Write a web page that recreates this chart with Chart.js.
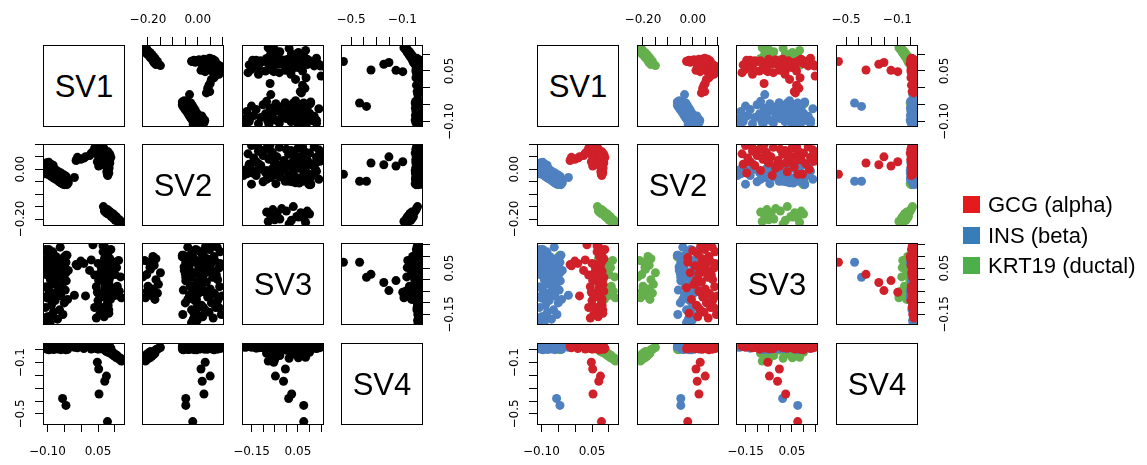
<!DOCTYPE html>
<html><head><meta charset="utf-8"><title>SV pairs</title>
<script src="https://cdn.jsdelivr.net/npm/chart.js@4.4.1/dist/chart.umd.min.js"></script>
<style>
html,body{margin:0;padding:0;background:#fff;}
body{position:relative;width:1147px;height:465px;overflow:hidden;font-family:"Liberation Sans",Arial,Helvetica,sans-serif;color:#000;}
canvas{position:absolute;}
.diag{position:absolute;box-sizing:border-box;border:1px solid #000;display:flex;align-items:center;justify-content:center;font-size:31px;line-height:1;}
.legend{position:absolute;left:963px;top:196px;}
.legend .row{position:absolute;left:0;display:flex;align-items:center;height:17px;white-space:nowrap;font-size:22px;line-height:17px;}
.legend .sw{width:17px;height:17px;margin-right:8px;flex:none;}
</style></head>
<body>
<script>
// ---------------- data ----------------
const cellTypes = ['GCG (alpha)', 'INS (beta)', 'KRT19 (ductal)'];
const svNames = ['SV1', 'SV2', 'SV3', 'SV4'];

const alphaSV1 = [0.055,0.065,0.045,0.060,0.050,0.070,0.040,0.062,0.080,0.052,0.072,0.045,0.085,0.065,0.078,0.058,0.070,0.088,0.062,0.080,0.070,0.085,0.075,0.065,0.082,0.072,0.085,0.078,0.068,0.080,0.075,0.083,0.078,0.080,0.076,0.082,0.078,0.079,0.050,0.058,0.035,0.040,0.068,0.030,0.025,0.013,0.008,-0.001,-0.011,-0.015,0.078,0.053,0.070,0.075,0.052,0.048];
const alphaSV2 = [0.095,0.090,0.088,0.085,0.080,0.078,0.075,0.072,0.070,0.068,0.065,0.062,0.060,0.058,0.055,0.052,0.050,0.048,0.045,0.042,0.040,0.038,0.035,0.032,0.030,0.028,0.025,0.022,0.020,0.015,0.010,0.005,0.000,-0.005,-0.010,-0.015,-0.020,-0.025,0.090,0.098,0.070,0.085,0.080,0.065,0.055,0.050,0.045,0.040,0.048,0.035,-0.020,0.025,0.018,0.050,0.013,0.030];
const alphaSV3 = [-0.150,0.120,-0.030,0.050,-0.090,0.140,0.020,-0.120,0.080,-0.060,0.100,-0.165,0.010,0.155,-0.100,0.065,-0.040,0.130,-0.140,0.035,-0.075,0.090,-0.010,0.145,-0.130,0.045,-0.050,0.110,-0.160,-0.110,0.060,-0.020,0.125,-0.085,0.030,-0.145,0.095,-0.035,0.070,-0.070,0.150,-0.120,0.000,0.085,0.040,-0.070,0.070,0.080,0.060,0.065,0.075,0.023,-0.012,-0.047,-0.004,-0.054];
const alphaSV4 = [0.020,0.035,0.010,0.042,0.005,0.025,0.038,0.015,0.030,0.045,0.000,0.028,0.018,0.040,0.022,0.008,0.033,0.012,0.036,0.026,0.044,0.004,0.030,0.016,0.039,0.020,0.010,0.034,0.041,0.025,0.007,0.030,0.018,0.043,0.012,0.037,0.022,0.008,0.027,0.014,0.032,0.019,0.040,0.006,0.024,0.030,0.010,0.035,0.015,0.028,-0.560,-0.345,-0.245,-0.205,-0.150,-0.097];

const betaSV1 = [-0.108,-0.106,-0.105,-0.104,-0.102,-0.100,-0.100,-0.098,-0.097,-0.095,-0.094,-0.092,-0.091,-0.090,-0.088,-0.087,-0.085,-0.084,-0.082,-0.081,-0.080,-0.078,-0.077,-0.075,-0.074,-0.072,-0.070,-0.069,-0.067,-0.065,-0.064,-0.062,-0.060,-0.059,-0.057,-0.055,-0.054,-0.052,-0.050,-0.049,-0.047,-0.045,-0.044,-0.042,-0.040,-0.038,-0.108,-0.110,-0.103,-0.096,-0.089,-0.083,-0.020,-0.055,-0.045];
const betaSV2 = [0.005,0.022,-0.008,0.015,0.026,-0.012,0.010,-0.020,0.018,-0.005,0.004,-0.025,0.012,-0.015,0.000,-0.030,0.008,-0.022,-0.006,-0.035,0.002,-0.028,-0.012,-0.040,-0.004,-0.034,-0.018,-0.045,-0.010,-0.050,-0.025,-0.040,-0.015,-0.055,-0.030,-0.045,-0.060,-0.022,-0.050,-0.035,-0.058,-0.028,-0.048,-0.062,-0.040,-0.054,-0.018,0.012,-0.002,0.028,0.020,0.016,-0.033,-0.048,-0.048];
const betaSV3 = [0.050,-0.120,0.130,-0.030,0.080,-0.160,0.020,-0.080,0.110,-0.050,0.060,-0.185,0.000,0.090,-0.110,0.035,-0.020,0.120,-0.140,0.070,-0.060,0.010,-0.090,0.100,-0.010,0.045,-0.170,0.075,-0.040,0.025,-0.130,0.140,-0.070,0.055,-0.025,0.090,-0.150,0.015,-0.100,0.065,-0.045,0.030,-0.005,0.105,-0.085,0.040,-0.075,0.085,-0.175,0.130,-0.155,0.050,-0.067,0.010,0.075];
const betaSV4 = [0.020,0.035,0.010,0.040,0.005,0.028,0.015,0.045,0.030,0.000,0.038,0.022,0.012,0.042,0.018,0.033,0.008,0.025,0.040,0.002,0.030,0.046,0.015,0.035,0.010,0.026,0.039,0.006,0.021,0.044,0.013,0.032,0.001,0.027,0.037,0.017,0.043,0.009,0.031,0.020,0.040,0.011,0.034,0.024,0.003,0.029,0.016,0.036,0.019,0.041,0.026,0.014,0.020,-0.380,-0.434];

const ductalSV1 = [0.066,0.069,0.071,0.074,0.078,0.080,0.083,0.087,0.089,0.093,0.095,0.099,0.101,0.105,0.107,0.111,0.113,0.117,0.119,-0.045,-0.050];
const ductalSV2 = [-0.150,-0.168,-0.158,-0.175,-0.162,-0.180,-0.168,-0.172,-0.190,-0.178,-0.196,-0.185,-0.205,-0.192,-0.200,-0.214,-0.203,-0.220,-0.210,-0.058,-0.062];
const ductalSV3 = [0.030,0.090,-0.020,0.062,-0.058,0.100,0.000,-0.085,0.045,-0.040,0.075,-0.068,0.022,0.052,-0.028,0.083,-0.050,0.012,-0.078,0.105,0.098];
const ductalSV4 = [0.018,0.000,0.010,-0.012,0.006,-0.020,-0.004,-0.028,-0.014,-0.040,-0.022,-0.050,-0.034,-0.062,-0.045,-0.058,-0.075,-0.066,-0.088,0.000,0.006];

// axis ranges, tick positions and the tick labels that are printed
const sv1Range = [-0.113, 0.127];
const sv2Range = [-0.224, 0.1015];
const sv3Range = [-0.191, 0.158];
const sv4Range = [-0.579, 0.053];
const sv1Ticks = [-0.10, -0.05, 0.00, 0.05, 0.10];
const sv2Ticks = [-0.20, -0.15, -0.10, -0.05, 0.00, 0.05, 0.10];
const sv3Ticks = [-0.15, -0.10, -0.05, 0.00, 0.05, 0.10, 0.15];
const sv4Ticks = [-0.5, -0.4, -0.3, -0.2, -0.1, 0.0];
const sv1LabelValues = [-0.10, 0.05], sv1LabelTexts = ['\u22120.10', '0.05'];
const sv2LabelValues = [-0.20, 0.00], sv2LabelTexts = ['\u22120.20', '0.00'];
const sv3LabelValues = [-0.15, 0.05], sv3LabelTexts = ['\u22120.15', '0.05'];
const sv4LabelValues = [-0.5, -0.1], sv4LabelTexts = ['\u22120.5', '\u22120.1'];

// ---------------- styles / layout ----------------
const pointColors = ['#d0202a', '#4f80bf', '#65b04d'];
const legendColors = ['#e41a1c', '#377eb8', '#4daf4a'];
const TICK_FAMILY = '"DejaVu Sans", sans-serif';
const TICK_SIZE = 12;
const POINT_R = 4.5;
const M = 50, A = 45, S = 81;
const leftCols = [43, 142, 242, 341];
const rightCols = [537, 637, 736, 836];
const rowsY = [45, 144, 243, 343];

const typeSV = [
  [alphaSV1, alphaSV2, alphaSV3, alphaSV4],
  [betaSV1, betaSV2, betaSV3, betaSV4],
  [ductalSV1, ductalSV2, ductalSV3, ductalSV4]
];
const svRanges = [sv1Range, sv2Range, sv3Range, sv4Range];
const svTicks = [sv1Ticks, sv2Ticks, sv3Ticks, sv4Ticks];
const svLabelValues = [sv1LabelValues, sv2LabelValues, sv3LabelValues, sv4LabelValues];
const svLabelTexts = [sv1LabelTexts, sv2LabelTexts, sv3LabelTexts, sv4LabelTexts];

const mctx = document.createElement('canvas').getContext('2d');
mctx.font = TICK_SIZE + 'px ' + TICK_FAMILY;
function widestLabel(v) { return Math.max(...svLabelTexts[v].map(t => mctx.measureText(t).width)); }
function labelFor(v, val) {
  const k = svLabelValues[v].findIndex(t => Math.abs(t - val) < 1e-9);
  return k < 0 ? '' : svLabelTexts[v][k];
}

const framePlugin = {
  id: 'frame',
  afterDatasetsDraw(chart) {
    const a = chart.chartArea, ctx = chart.ctx;
    ctx.save();
    ctx.strokeStyle = '#000';
    ctx.lineWidth = 1;
    ctx.strokeRect(a.left + 0.5, a.top + 0.5, a.right - a.left, a.bottom - a.top);
    ctx.restore();
  }
};

function axisOpts(v, pos, show) {
  const isY = (pos === 'left' || pos === 'right');
  const w = widestLabel(v);
  let pad;
  if (pos === 'top') pad = 9.8;
  else if (pos === 'bottom') pad = 12.8;
  else if (pos === 'left') pad = 22 - 8 - w / 2;
  else pad = 27.5 - 8 - w / 2;
  return {
    type: 'linear', position: pos, display: show,
    min: svRanges[v][0], max: svRanges[v][1],
    afterBuildTicks: s => { s.ticks = svTicks[v].map(t => ({ value: t })); },
    afterFit: s => { if (!show) return; if (isY) s.width = A; else s.height = A; },
    grid: { display: true, drawOnChartArea: false, drawTicks: true, tickLength: 8, color: '#000', lineWidth: 1 },
    border: { display: false },
    ticks: {
      autoSkip: false, color: '#000', font: { family: TICK_FAMILY, size: TICK_SIZE },
      padding: pad, minRotation: isY ? 90 : 0, maxRotation: isY ? 90 : 0,
      crossAlign: isY ? 'center' : 'near',
      callback: val => labelFor(v, val)
    }
  };
}

function makeDiag(x, y, i) {
  const d = document.createElement('div');
  d.className = 'diag';
  d.style.left = x + 'px'; d.style.top = y + 'px';
  d.style.width = (S + 1) + 'px'; d.style.height = (S + 1) + 'px';
  d.textContent = svNames[i];
  document.body.appendChild(d);
}

function makePanel(x, y, i, j, colored) {
  const c = document.createElement('canvas');
  const sz = S + 2 * M;
  c.width = sz; c.height = sz;
  c.style.width = sz + 'px'; c.style.height = sz + 'px';
  c.style.left = (x - M) + 'px'; c.style.top = (y - M) + 'px';
  document.body.appendChild(c);
  const hasTop = i === 0 && j % 2 === 1;
  const hasBottom = i === 3 && j % 2 === 0;
  const hasLeft = j === 0 && i % 2 === 1;
  const hasRight = j === 3 && i % 2 === 0;
  const datasets = typeSV.map((arrs, t) => ({
    label: cellTypes[t],
    data: arrs[j].map((val, k) => ({ x: val, y: arrs[i][k] })),
    backgroundColor: colored ? pointColors[t] : '#000',
    borderWidth: 0, pointRadius: POINT_R, pointHoverRadius: POINT_R, clip: 0
  }));
  new Chart(c, {
    type: 'scatter',
    data: { datasets },
    options: {
      responsive: false, animation: false, devicePixelRatio: 1, events: [],
      layout: { autoPadding: true, padding: {
        top: hasTop ? M - A : M, bottom: hasBottom ? M - A : M,
        left: hasLeft ? M - A : M, right: hasRight ? M - A : M } },
      plugins: { legend: { display: false }, tooltip: { enabled: false } },
      scales: {
        x: axisOpts(j, hasTop ? 'top' : 'bottom', hasTop || hasBottom),
        y: axisOpts(i, hasRight ? 'right' : 'left', hasLeft || hasRight)
      }
    },
    plugins: [framePlugin]
  });
}

function makeMatrix(cols, colored) {
  for (let i = 0; i < 4; i++) {
    for (let j = 0; j < 4; j++) {
      if (i === j) makeDiag(cols[j], rowsY[i], i);
      else makePanel(cols[j], rowsY[i], i, j, colored);
    }
  }
}

makeMatrix(leftCols, false);
makeMatrix(rightCols, true);

// legend
const lg = document.createElement('div');
lg.className = 'legend';
const legendTops = [0, 31, 61];
cellTypes.forEach((name, t) => {
  const r = document.createElement('div');
  r.className = 'row';
  r.style.top = legendTops[t] + 'px';
  const sw = document.createElement('span');
  sw.className = 'sw'; sw.style.background = legendColors[t];
  const tx = document.createElement('span');
  tx.textContent = name;
  r.appendChild(sw); r.appendChild(tx);
  lg.appendChild(r);
});
document.body.appendChild(lg);
</script>
</body></html>
